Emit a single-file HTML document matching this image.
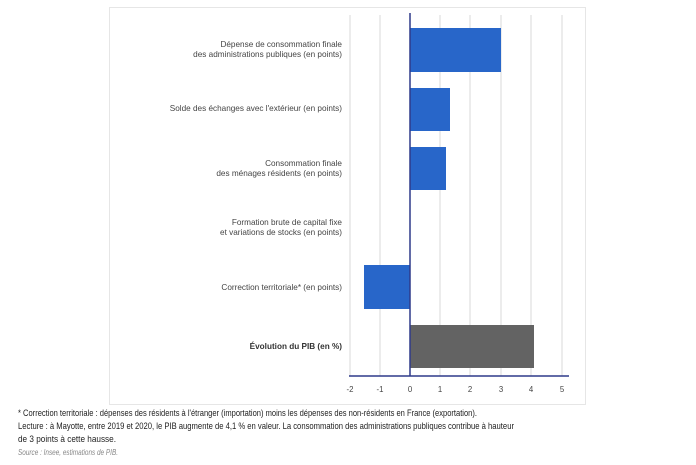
<!DOCTYPE html>
<html><head><meta charset="utf-8"><style>
html,body{margin:0;padding:0;background:#fff;}
svg{display:block;font-family:"Liberation Sans",sans-serif;}
</style></head><body>
<svg width="696" height="465" viewBox="0 0 696 465" xmlns="http://www.w3.org/2000/svg">
<rect x="109.5" y="7.5" width="476" height="397" fill="#fff" stroke="#e6e6e6"/>
<g stroke="#d9d9d9" stroke-width="1">
<line x1="350" y1="15" x2="350" y2="376"/>
<line x1="380" y1="15" x2="380" y2="376"/>
<line x1="440" y1="15" x2="440" y2="376"/>
<line x1="470" y1="15" x2="470" y2="376"/>
<line x1="501" y1="15" x2="501" y2="376"/>
<line x1="531" y1="15" x2="531" y2="376"/>
<line x1="562" y1="15" x2="562" y2="376"/>
</g>
<g fill="#2866c9">
<rect x="410" y="28" width="91" height="44"/>
<rect x="410" y="88" width="40" height="43"/>
<rect x="410" y="147" width="36" height="43"/>
<rect x="364" y="265" width="46" height="44"/>
</g>
<rect x="410" y="325" width="124" height="43" fill="#636363"/>
<line x1="410" y1="13" x2="410" y2="376" stroke="#2f3a8a" stroke-width="1.5"/>
<line x1="349" y1="376" x2="569" y2="376" stroke="#2f3a8a" stroke-width="1.5"/>
<g font-size="7.8" fill="#444" text-anchor="middle">
<text x="350" y="392">-2</text><text x="380" y="392">-1</text><text x="410" y="392">0</text>
<text x="440" y="392">1</text><text x="470" y="392">2</text><text x="501" y="392">3</text>
<text x="531" y="392">4</text><text x="562" y="392">5</text>
</g>
<g font-size="8.2" fill="#444" text-anchor="end">
<text x="342" y="47">Dépense de consommation finale</text>
<text x="342" y="57">des administrations publiques (en points)</text>
<text x="342" y="111">Solde des échanges avec l'extérieur (en points)</text>
<text x="342" y="166">Consommation finale</text>
<text x="342" y="176">des ménages résidents (en points)</text>
<text x="342" y="225">Formation brute de capital fixe</text>
<text x="342" y="235">et variations de stocks (en points)</text>
<text x="342" y="290">Correction territoriale* (en points)</text>
<text x="342" y="349" font-weight="bold" fill="#333">Évolution du PIB (en %)</text>
</g>
<g font-size="9.5" fill="#222">
<text x="18" y="416" textLength="459" lengthAdjust="spacingAndGlyphs">* Correction territoriale : dépenses des résidents à l'étranger (importation) moins les dépenses des non-résidents en France (exportation).</text>
<text x="18" y="429" textLength="496" lengthAdjust="spacingAndGlyphs">Lecture : à Mayotte, entre 2019 et 2020, le PIB augmente de 4,1 % en valeur. La consommation des administrations publiques contribue à hauteur</text>
<text x="18" y="442" font-size="9.2" textLength="98" lengthAdjust="spacingAndGlyphs">de 3 points à cette hausse.</text>
<text x="18" y="455" font-style="italic" fill="#888" font-size="8.5" textLength="100" lengthAdjust="spacingAndGlyphs">Source : Insee, estimations de PIB.</text>
</g>
</svg>
</body></html>
